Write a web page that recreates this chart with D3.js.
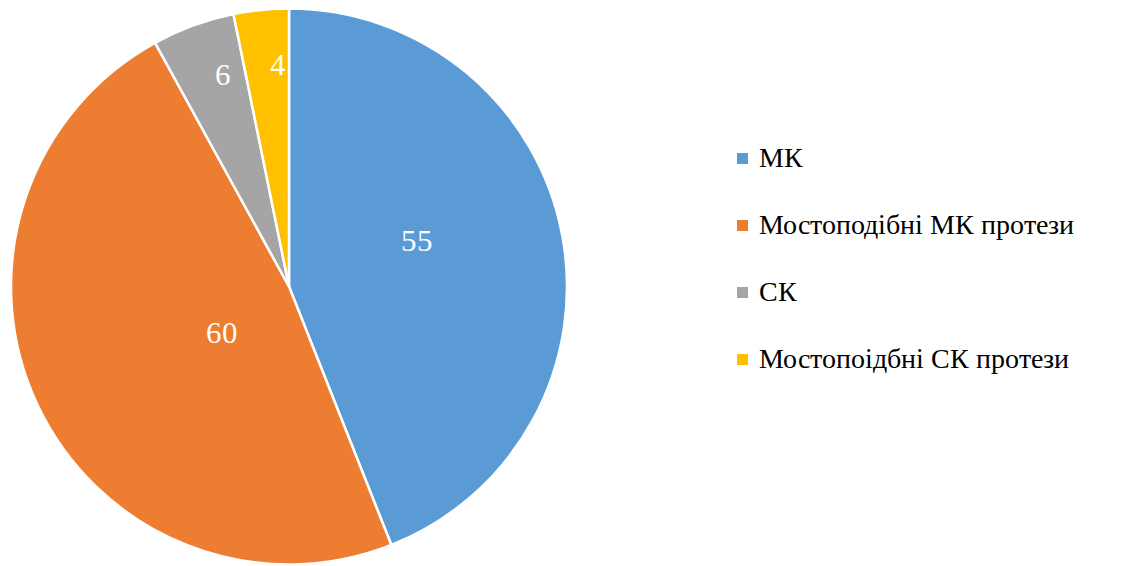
<!DOCTYPE html>
<html>
<head>
<meta charset="utf-8">
<script src="https://cdn.jsdelivr.net/npm/d3@7"></script>
<style>
  @font-face { font-family: "ChartSerif"; src: local("Liberation Serif"), local("LiberationSerif"), local("Tinos"), local("Times New Roman"); }
</style>
</head>
<body style="margin:0">
<script>
// chart data
var categories = ["МК", "Мостоподібні МК протези", "СК", "Мостопоідбні СК протези"];
var values = [55, 60, 6, 4];
var colors = ["#5B9BD5", "#ED7D31", "#A5A5A5", "#FFC000"];

var fams = ["ChartSerif", "Tinos", "Times", "Liberation Serif"];

var width = 1127,
    height = 566;

var svg = d3.select("body").append("svg")
    .attr("width", width)
    .attr("height", height)
    .style("display", "block");

var cx = 289, cy = 286.5, radius = 278;

var pie = d3.pie().sort(null).value(function (d) { return d; });
var arcs = pie(values);

var arc = d3.arc().innerRadius(0).outerRadius(radius);

var g = svg.append("g")
    .attr("transform", "translate(" + cx + "," + cy + ")");

// slices
g.selectAll("path.slice")
    .data(arcs)
    .enter().append("path")
    .attr("class", "slice")
    .attr("d", arc)
    .attr("fill", function (d, i) { return colors[i]; })
    .attr("stroke", "#fff")
    .attr("stroke-width", 2.5)
    .attr("stroke-linejoin", "round");

// label position, roughly how excel "best fit" puts them
function labelPos(d) {
    var share = (d.endAngle - d.startAngle) / (2 * Math.PI);
    var mid = (d.startAngle + d.endAngle) / 2;
    var r, a;
    if (share < 0.1) {
        r = radius * 0.8;
        a = mid + 3 * Math.PI / 180;
    } else {
        r = d.index === 0 ? radius * 0.49 : radius * 0.29;
        a = mid - 9 * Math.PI / 180;
    }
    return [r * Math.sin(a), -r * Math.cos(a)];
}

function setFont(sel, size) {
    sel.style("font-family", fams.map(function (f) { return "'" + f + "'"; }).join(", "))
       .style("font-size", size + "px");
}

g.selectAll("text.value")
    .data(arcs)
    .enter().append("text")
    .attr("class", "value")
    .attr("x", function (d) { return labelPos(d)[0]; })
    .attr("y", function (d) { return labelPos(d)[1]; })
    .attr("dy", "0.35em")
    .attr("text-anchor", "middle")
    .attr("fill", "#fff")
    .call(setFont, 31)
    .text(function (d) { return d.data; });

// legend
var row = d3.scalePoint()
    .domain(categories)
    .range([167, 368]);

svg.selectAll("rect.key")
    .data(categories)
    .enter().append("rect")
    .attr("class", "key")
    .attr("x", 737)
    .attr("y", function (d) { return row(d) - 14; })
    .attr("width", 11)
    .attr("height", 11)
    .attr("fill", function (d, i) { return colors[i]; });

svg.selectAll("text.key")
    .data(categories)
    .enter().append("text")
    .attr("class", "key")
    .attr("x", 759)
    .attr("y", function (d) { return row(d); })
    .attr("fill", "#000")
    .call(setFont, 28)
    .text(function (d) { return d; });
</script>
</body>
</html>
